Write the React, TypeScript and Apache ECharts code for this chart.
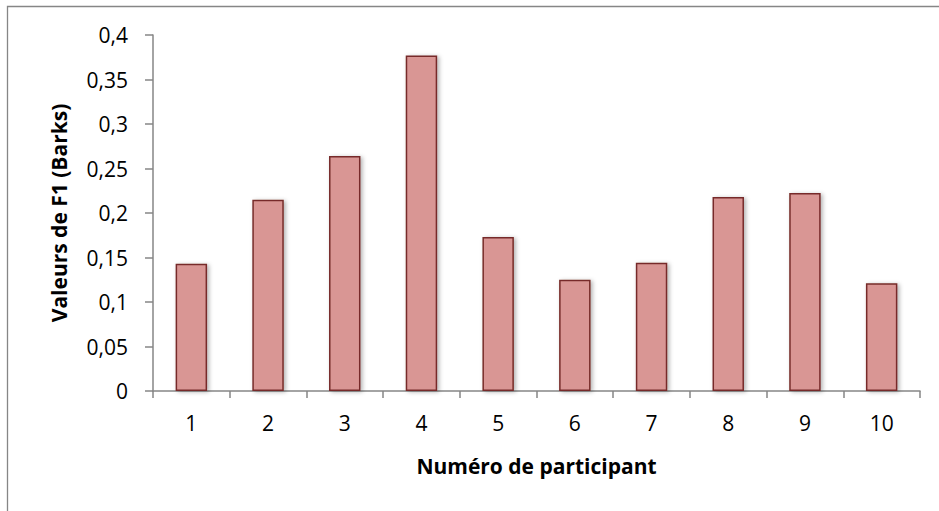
import React, { useEffect, useRef } from "react";
import * as echarts from "echarts";

const categories = ["1", "2", "3", "4", "5", "6", "7", "8", "9", "10"];
const f1Values = [0.143, 0.215, 0.264, 0.377, 0.173, 0.125, 0.144, 0.218, 0.2225, 0.121];
const xTitle = "Numéro de participant";
const yTitle = "Valeurs de F1 (Barks)";

const FONT = "'Open Sans', 'Liberation Sans', sans-serif";

export default function App() {
  const ref = useRef<HTMLDivElement>(null);
  useEffect(() => {
    if (!ref.current) return;
    const chart = echarts.init(ref.current, undefined, { renderer: "svg" });
    chart.setOption({
      animation: false,
      backgroundColor: "#ffffff",
      graphic: [
        {
          type: "rect",
          shape: { x: 7.5, y: 6.5, width: 1200, height: 1200 },
          style: { fill: "none", stroke: "#868686", lineWidth: 1.3 },
          silent: true,
        },
      ],
      grid: { left: 153, top: 35, right: 19, bottom: 120, containLabel: false },
      xAxis: {
        type: "category",
        data: categories,
        boundaryGap: true,
        name: xTitle,
        nameLocation: "middle",
        nameGap: 64,
        nameTextStyle: { fontFamily: FONT, fontWeight: "bold", fontSize: 21, color: "#000" },
        axisLine: { lineStyle: { color: "#868686", width: 1.5 } },
        axisTick: { show: true, length: 7, lineStyle: { color: "#868686", width: 1.5 } },
        axisLabel: { fontFamily: FONT, fontSize: 21, color: "#000", margin: 21 },
      },
      yAxis: {
        type: "value",
        min: 0,
        max: 0.4,
        interval: 0.05,
        name: yTitle,
        nameLocation: "middle",
        nameGap: 84,
        nameRotate: 90,
        nameTextStyle: { fontFamily: FONT, fontWeight: "bold", fontSize: 21, color: "#000" },
        splitLine: { show: false },
        axisLine: { show: true, lineStyle: { color: "#868686", width: 1.5 } },
        axisTick: { show: true, length: 8, lineStyle: { color: "#868686", width: 1.5 } },
        axisLabel: {
          fontFamily: FONT,
          fontSize: 21,
          color: "#000",
          margin: 25,
          formatter: (v: number) => String(+v.toFixed(2)).replace(".", ","),
        },
      },
      series: [
        {
          type: "bar",
          data: f1Values,
          barWidth: "41%",
          itemStyle: {
            color: "#D99694",
            borderColor: "#772C2A",
            borderWidth: 1.5,
            shadowBlur: 4,
            shadowColor: "rgba(0,0,0,0.3)",
            shadowOffsetX: 2,
            shadowOffsetY: 1,
          },
        },
      ],
    });
    return () => chart.dispose();
  }, []);
  return (
    <div
      ref={ref}
      style={{ position: "fixed", left: 0, top: 0, width: 939, height: 511, background: "#fff" }}
    />
  );
}
